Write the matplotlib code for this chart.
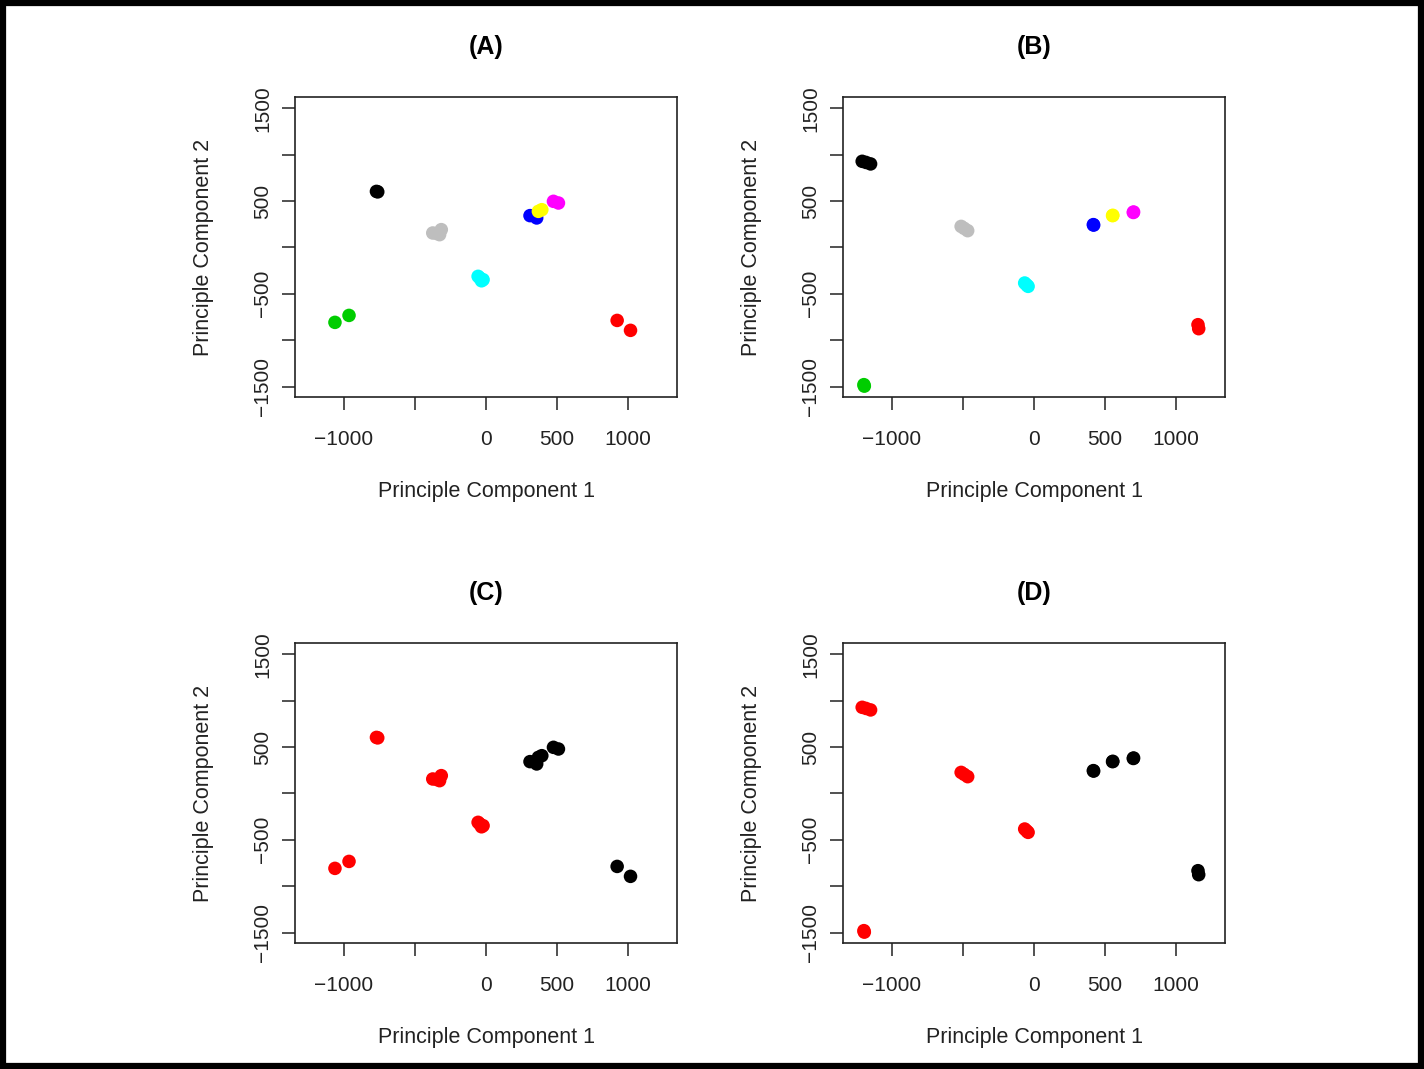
import matplotlib.pyplot as plt
from matplotlib.patches import Rectangle

plt.rcParams["font.family"] = ["Liberation Sans", "DejaVu Sans"]

# one entry per sample group; (A)/(B) colour by group, (C)/(D) by class
group_colors = ["black", "#BEBEBE", "cyan", "#00CD00", "red", "blue", "magenta", "yellow"]
group_class = [0, 0, 0, 0, 1, 1, 1, 1]  # 0 -> red, 1 -> black in (C)/(D)
class_colors = ["red", "black"]

# projections for panels (A) and (C)
pca1_x = [[-769, -760], [-373, -313, -325, -345], [-42, -19, -54, -30], [-1061, -962],
          [924, 1018], [311, 358], [476, 511], [394, 370]]
pca1_y = [[603, 598], [155, 191, 137, 150], [-330, -348, -312, -360], [-808, -733],
          [-787, -894], [342, 317], [496, 478], [406, 388]]

# projections for panels (B) and (D)
pca2_x = [[-1207, -1148, -1180], [-511, -465, -490], [-64, -40, -50], [-1195, -1192],
          [1155, 1160], [419, 421], [702, 700], [556, 554]]
pca2_y = [[927, 899, 915], [226, 180, 205], [-384, -420, -405], [-1479, -1495],
          [-833, -876], [245, 240], [381, 376], [345, 342]]

x_ticks = [-1000, -500, 0, 500, 1000]
x_labels = ["\u22121000", "", "0", "500", "1000"]
y_ticks = [-1500, -1000, -500, 0, 500, 1000, 1500]
y_labels = ["\u22121500", "", "\u2212500", "", "500", "", "1500"]

W, H = 1424, 1069
fig = plt.figure(figsize=(W / 100, H / 100), dpi=100)

# panel boxes in pixels: left, top, right, bottom
boxes = {
    "(A)": (295, 97, 677, 397),
    "(B)": (843, 97, 1225, 397),
    "(C)": (295, 643, 677, 943),
    "(D)": (843, 643, 1225, 943),
}
panels = [("(A)", pca1_x, pca1_y, False), ("(B)", pca2_x, pca2_y, False),
          ("(C)", pca1_x, pca1_y, True), ("(D)", pca2_x, pca2_y, True)]

for name, xs, ys, by_class in panels:
    l, t, r, b = boxes[name]
    ax = fig.add_axes([l / W, 1 - b / H, (r - l) / W, (b - t) / H])
    for i in range(len(xs)):
        col = class_colors[group_class[i]] if by_class else group_colors[i]
        ax.scatter(xs[i], ys[i], s=95, color=col, edgecolors="none", zorder=2 + i * 0.01)
    ax.set_xlim(-1342, 1345)
    ax.set_ylim(-1612, 1620)
    ax.set_xticks(x_ticks, x_labels)
    ax.set_yticks(y_ticks, y_labels)
    ax.tick_params(length=9.5, width=1.1, labelsize=15, color="#222222", labelcolor="#222222")
    ax.tick_params(axis="x", pad=14)
    ax.tick_params(axis="y", pad=7, labelrotation=90)
    for lab in ax.get_yticklabels():
        lab.set_va("center")
    for sp in ax.spines.values():
        sp.set_linewidth(1.2)
        sp.set_color("#222222")
    ax.set_title(name, fontsize=18, fontweight="bold", pad=31)
    ax.set_xlabel("Principle Component 1", fontsize=15.5, color="#222222")
    ax.set_ylabel("Principle Component 2", fontsize=15.5, color="#222222")
    # label centres sit a fixed pixel distance outside the box
    ax.xaxis.set_label_coords(0.5, -94 / (b - t))
    ax.xaxis.label.set_va("center")
    ax.yaxis.set_label_coords(-92 / (r - l), 0.5)
    ax.yaxis.label.set_va("center")

# black frame around the whole image
fig.add_artist(Rectangle((3 / W, 3 / H), 1 - 6 / W, 1 - 6 / H, transform=fig.transFigure,
                         fill=False, lw=4.5, edgecolor="black"))

fig.savefig("out.png", dpi=100)
